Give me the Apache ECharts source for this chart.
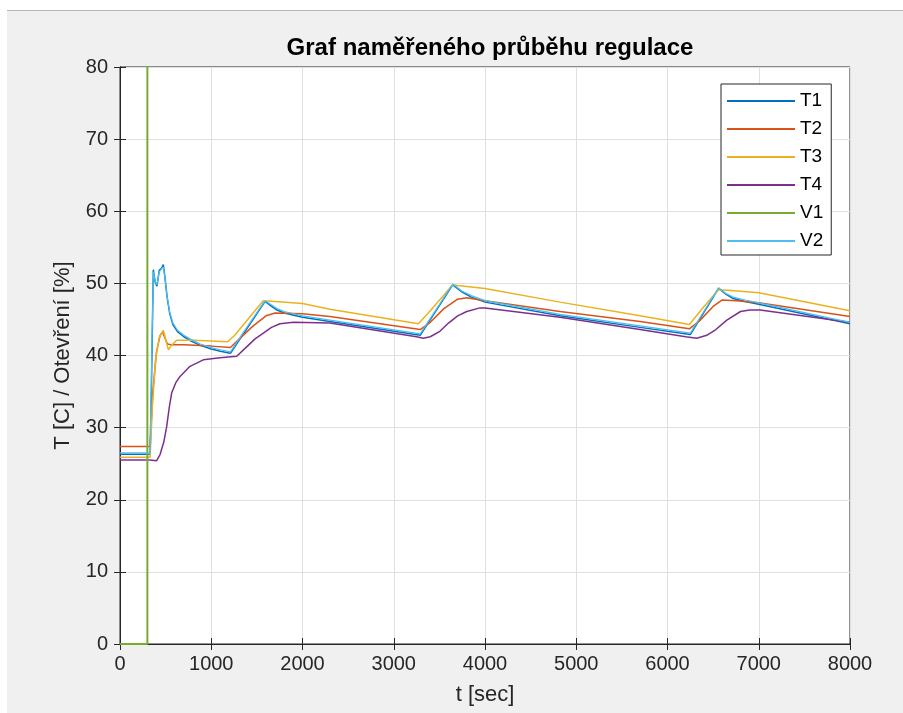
<!DOCTYPE html>
<html>
<head>
<meta charset="utf-8">
<script src="https://cdn.jsdelivr.net/npm/echarts@6/dist/echarts.min.js"></script>
<style>
  html, body { margin: 0; padding: 0; background: #fff; }
  #main {
    width: 903px; height: 713px;
    background: #f0f0f0;
    box-shadow: inset 7px 10px 0 #fff, inset 7px 11px 0 #b4b4b4;
  }
</style>
</head>
<body>
<div id="main"></div>
<script>
// cas [s] a namerene hodnoty
const t1Time = [0, 330, 345, 365, 385, 405, 430, 455, 475, 495, 515, 545, 580, 630, 700, 780, 880, 1000, 1100, 1210, 1400, 1590, 1650, 1720, 1800, 2000, 2300, 3290, 3646, 3750, 3850, 4000, 4822, 5699, 6250, 6560, 6640, 6720, 6850, 7000, 8000];
const t1Vals = [26.3, 26.3, 36.0, 51.9, 50.2, 49.6, 51.8, 52.1, 52.6, 50.6, 48.2, 45.8, 44.3, 43.3, 42.6, 42.0, 41.4, 40.9, 40.6, 40.3, 43.9, 47.5, 46.9, 46.3, 45.9, 45.3, 44.7, 42.8, 49.8, 48.8, 48.1, 47.4, 45.5, 43.9, 42.9, 49.3, 48.5, 47.9, 47.5, 47.1, 44.4];
const v2Vals = [26.5, 26.5, 38.0, 51.6, 50.3, 49.8, 51.6, 52.0, 52.3, 50.5, 48.3, 46.0, 44.5, 43.5, 42.8, 42.2, 41.6, 41.1, 40.8, 40.5, 44.1, 47.6, 47.1, 46.5, 46.1, 45.5, 44.9, 43.0, 49.9, 48.9, 48.3, 47.6, 45.7, 44.1, 43.1, 49.4, 48.6, 48.1, 47.7, 47.3, 44.6];

const t2Time = [0, 330, 360, 400, 440, 467, 490, 520, 560, 700, 1000, 1210, 1300, 1450, 1600, 1700, 2000, 2300, 3290, 3400, 3550, 3700, 3800, 4000, 4822, 5699, 6240, 6350, 6500, 6600, 6750, 7000, 8000];
const t2Vals = [27.4, 27.4, 35.0, 40.5, 42.8, 43.3, 42.5, 41.6, 41.5, 41.5, 41.3, 41.1, 42.2, 44.0, 45.5, 45.9, 45.8, 45.4, 43.6, 44.6, 46.5, 47.8, 48.0, 47.6, 46.1, 44.7, 43.7, 44.8, 46.8, 47.7, 47.6, 47.3, 45.4];

const t3Time = [0, 330, 355, 390, 430, 475, 505, 530, 570, 620, 800, 1000, 1180, 1250, 1400, 1570, 1700, 2000, 2300, 3270, 3400, 3550, 3646, 3700, 4000, 4822, 5699, 6240, 6400, 6560, 6700, 7000, 8000];
const t3Vals = [25.9, 25.9, 33.0, 39.5, 42.5, 43.5, 42.0, 40.8, 41.5, 42.1, 42.1, 42.0, 41.9, 42.7, 45.0, 47.6, 47.5, 47.2, 46.4, 44.4, 46.2, 48.4, 49.8, 49.7, 49.3, 47.4, 45.5, 44.3, 46.8, 49.1, 49.0, 48.7, 46.2];

const t4Time = [0, 330, 400, 440, 480, 511, 540, 566, 610, 658, 767, 913, 1096, 1279, 1388, 1480, 1571, 1660, 1753, 1900, 2300, 3250, 3324, 3400, 3500, 3600, 3700, 3800, 3945, 4000, 4822, 5699, 6200, 6320, 6430, 6530, 6650, 6800, 6900, 7014, 8000];
const t4Vals = [25.5, 25.5, 25.4, 26.3, 28.0, 30.1, 32.8, 34.8, 36.2, 37.1, 38.5, 39.4, 39.7, 39.9, 41.2, 42.3, 43.1, 43.9, 44.4, 44.6, 44.5, 42.6, 42.4, 42.6, 43.3, 44.5, 45.5, 46.1, 46.6, 46.6, 45.3, 43.6, 42.6, 42.4, 42.8, 43.6, 44.9, 46.1, 46.3, 46.3, 44.6];

const v1Time = [0, 300, 300, 8000];
const v1Vals = [0, 0, 100, 100];

const names = ['T1', 'T2', 'T3', 'T4', 'V1', 'V2'];
const colors = ['#0072BD', '#D95319', '#EDB120', '#7E2F8E', '#77AC30', '#4DBEEE'];
const widths = [1.5, 1.5, 1.5, 1.5, 2, 1.2];

function pairs(ts, vs) {
    return ts.map((t, i) => [t, vs[i]]);
}

const seriesData = [
    pairs(t1Time, t1Vals),
    pairs(t2Time, t2Vals),
    pairs(t3Time, t3Vals),
    pairs(t4Time, t4Vals),
    pairs(v1Time, v1Vals),
    pairs(t1Time, v2Vals)
];

const font = 'Liberation Sans, Arial, sans-serif';
const ink = '#262626';

const chart = echarts.init(document.getElementById('main'), null, { renderer: 'canvas' });

const axisCommon = {
    axisLine: { show: true, lineStyle: { color: ink, width: 1 } },
    axisTick: { show: true, inside: true, length: 6, lineStyle: { color: ink } }
};

chart.setOption({
    backgroundColor: 'transparent',
    animation: false,
    color: colors,
    title: {
        text: 'Graf naměřeného průběhu regulace',
        left: 485,
        top: 31,
        textAlign: 'center',
        textStyle: { fontFamily: font, fontSize: 24, fontWeight: 'bold', color: '#000' }
    },
    grid: {
        left: 120, right: 53, top: 67, bottom: 69,
        show: true, backgroundColor: '#fff', borderColor: ink, borderWidth: 1
    },
    legend: {
        orient: 'vertical',
        left: 721, top: 84,
        data: names,
        icon: 'rect',
        itemWidth: 68, itemHeight: 2, itemGap: 8,
        padding: [7, 8, 4, 6],
        backgroundColor: '#fff',
        borderColor: ink, borderWidth: 1, borderRadius: 0,
        textStyle: { fontFamily: font, fontSize: 19, lineHeight: 20, color: '#000' }
    },
    xAxis: [{
        type: 'value', min: 0, max: 8000, interval: 1000,
        name: 't [sec]', nameLocation: 'middle', nameGap: 40,
        nameTextStyle: { fontFamily: font, fontSize: 22, color: ink },
        axisLabel: { fontFamily: font, fontSize: 20, color: ink, margin: 10, formatter: v => String(v) },
        splitLine: { show: true, lineStyle: { color: '#dfdfdf', width: 1 } },
        ...axisCommon
    }, {
        type: 'value', min: 0, max: 8000, interval: 1000, position: 'top',
        axisLabel: { show: false }, splitLine: { show: false },
        ...axisCommon
    }],
    yAxis: [{
        type: 'value', min: 0, max: 80, interval: 10,
        name: 'T [C] / Otevření [%]', nameLocation: 'middle', nameGap: 46, nameRotate: 90,
        nameTextStyle: { fontFamily: font, fontSize: 22, color: ink },
        axisLabel: { fontFamily: font, fontSize: 20, color: ink, margin: 12 },
        splitLine: { show: true, lineStyle: { color: '#dfdfdf', width: 1 } },
        ...axisCommon
    }, {
        type: 'value', min: 0, max: 80, interval: 10, position: 'right',
        axisLabel: { show: false }, splitLine: { show: false },
        ...axisCommon
    }],
    series: names.map((n, i) => ({
        name: n,
        type: 'line',
        data: seriesData[i],
        showSymbol: false,
        symbol: 'none',
        clip: true,
        lineStyle: { width: widths[i], color: colors[i] },
        itemStyle: { color: colors[i] }
    }))
});
</script>
</body>
</html>
